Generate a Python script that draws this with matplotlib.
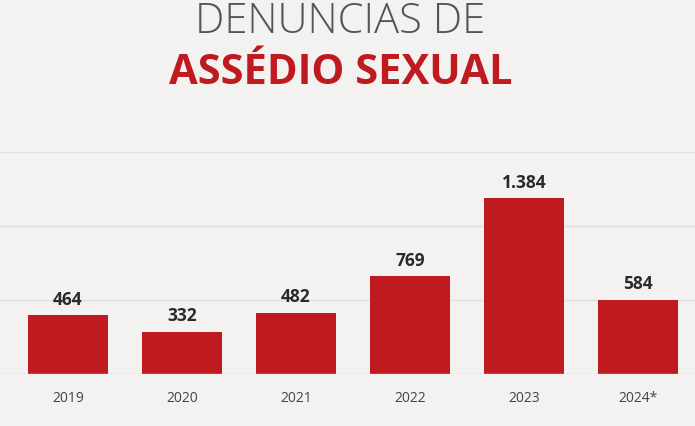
import matplotlib
matplotlib.use("Agg")
import matplotlib.pyplot as plt

years = ["2019", "2020", "2021", "2022", "2023", "2024*"]
values = [464, 332, 482, 769, 1384, 584]
value_labels = ["464", "332", "482", "769", "1.384", "584"]

fig = plt.figure(figsize=(6.95, 4.26), dpi=100)
fig.patch.set_facecolor("#f3f2f0")
ax = fig.add_axes([0, 1 - 374/426, 1, (374-152)/426])
ax.set_facecolor("#f3f2f0")
x = list(range(len(years)))
ax.bar(x, values, width=0.70, color="#be1a1f", zorder=3)
ax.set_xlim(-68/114, (695-68)/114)
ax.set_ylim(0, 1746)
for yv in [582, 1164, 1746]:
    ax.axhline(yv, color="#e2e0dd", lw=1, zorder=1)
ax.axhline(0, color="#d0cecb", lw=1, zorder=4)
for xi, v, lab in zip(x, values, value_labels):
    ax.text(xi, v + 50, lab, ha="center", va="bottom", fontsize=12.5,
            fontweight="bold", color="#2a2a2a", family="Open Sans")
ax.set_xticks(x)
ax.set_xticklabels(years, fontsize=10, color="#444444", family="Open Sans")
ax.tick_params(axis="x", length=0, pad=12)
ax.set_yticks([])
for s in ax.spines.values():
    s.set_visible(False)

fig.text(0.49, 1 - 22/426, "DENÚNCIAS DE", ha="center", va="center",
         fontsize=30, color="#555555", family="Open Sans", fontweight="light")
fig.text(0.49, 1 - 74/426, "ASSÉDIO SEXUAL", ha="center", va="center",
         fontsize=30, color="#be1a1f", family="Open Sans", fontweight="bold")
fig.savefig("out.png", dpi=100, facecolor=fig.get_facecolor())
